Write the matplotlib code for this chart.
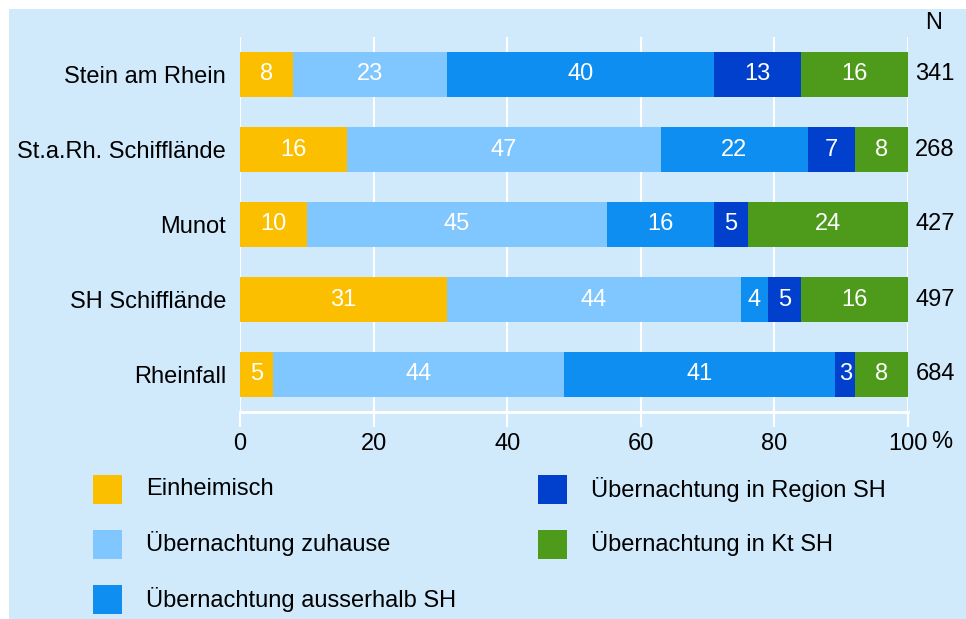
import matplotlib.pyplot as plt
from matplotlib.patches import Rectangle

plt.rcParams['font.family'] = ['Liberation Sans', 'DejaVu Sans']

places = ["Stein am Rhein", "St.a.Rh. Schifflände", "Munot", "SH Schifflände", "Rheinfall"]
n_values = [341, 268, 427, 497, 684]
categories = ["Einheimisch", "Übernachtung zuhause", "Übernachtung ausserhalb SH",
              "Übernachtung in Region SH", "Übernachtung in Kt SH"]
einheimisch = [8, 16, 10, 31, 5]
zuhause = [23, 47, 45, 44, 44]
ausserhalb = [40, 22, 16, 4, 41]
region = [13, 7, 5, 5, 3]
kanton = [16, 8, 24, 16, 8]
colors = ["#fbbf00", "#80c6ff", "#0d8ef0", "#0040cc", "#4e9a1a"]
ticks = [0, 20, 40, 60, 80, 100]

series = [einheimisch, zuhause, ausserhalb, region, kanton]
bg = "#d0eafc"
fs = 17

fig = plt.figure(figsize=(9.66, 6.19), dpi=100)
fig.patches.append(Rectangle((9 / 966, 0), 1, 1 - 9 / 619, transform=fig.transFigure,
                             facecolor=bg, edgecolor="none", zorder=-10))

ax = fig.add_axes([240 / 966, 207 / 619, 668 / 966, 375 / 619])
ax.set_facecolor(bg)

ypos = list(range(len(places)))
totals = [sum(s[i] for s in series) for i in ypos]
left = [0.0] * len(places)
for vals, col in zip(series, colors):
    widths = [v / t * 100 for v, t in zip(vals, totals)]
    ax.barh(ypos, widths, left=left, height=0.61, color=col, zorder=3)
    for i, (w, v) in enumerate(zip(widths, vals)):
        ax.text(left[i] + w / 2, i, str(v), ha="center", va="center",
                color="white", fontsize=fs, zorder=4)
    left = [l + w for l, w in zip(left, widths)]

ax.set_xlim(0, 100)
ax.set_ylim(len(places) - 0.5, -0.5)
ax.set_xticks(ticks)
ax.set_xticklabels([str(t) for t in ticks], fontsize=fs)
ax.tick_params(axis="x", length=11, width=1.5, color="white", pad=4)
ax.set_yticks(ypos)
ax.set_yticklabels(places, fontsize=fs)
ax.tick_params(axis="y", length=0, pad=10)
ax.grid(axis="x", color="white", linewidth=1.5, zorder=1)
for side in ["top", "right", "left"]:
    ax.spines[side].set_visible(False)
ax.spines["bottom"].set_color("white")
ax.spines["bottom"].set_linewidth(2)

ax.text(934 / 966, 1 - 23 / 619, "N", transform=fig.transFigure, ha="center", va="center", fontsize=fs)
for i, n in enumerate(n_values):
    ax.text(101.1, i, str(n), ha="left", va="center", fontsize=fs)
ax.text(942 / 966, 1 - 442 / 619, "%", transform=fig.transFigure, ha="center", va="center", fontsize=fs)

# legend
legend_x = [93, 538]
legend_y = [489, 544, 599]
for k, (cat, col) in enumerate(zip(categories, colors)):
    cx = legend_x[k // 3]
    cy = legend_y[k % 3]
    fig.patches.append(Rectangle((cx / 966, 1 - (cy + 14.5) / 619), 29 / 966, 29 / 619,
                                 transform=fig.transFigure, facecolor=col, edgecolor="none"))
    fig.text((cx + 53) / 966, 1 - cy / 619, cat, ha="left", va="center", fontsize=fs)

fig.savefig("out.png", dpi=100)
